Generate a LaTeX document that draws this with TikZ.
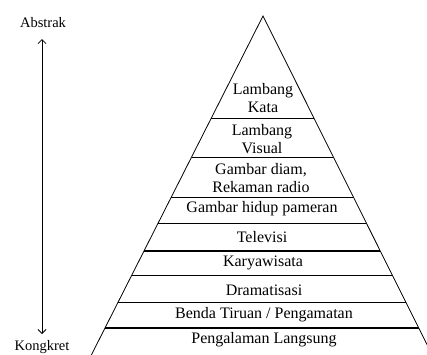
\documentclass[tikz,border=0pt]{standalone}
\usepackage{fontspec}
\setmainfont{Liberation Serif}
\usetikzlibrary{arrows.meta}
\begin{document}
\begin{tikzpicture}[x=1pt,y=-1pt,
  lbl/.style={font=\fontsize{16}{18}\selectfont, align=center, inner sep=0pt},
  side/.style={font=\fontsize{14.5}{16}\selectfont, inner sep=0pt},
  edge/.style={line width=0.8pt},
  rung/.style={line width=0.8pt},
  thick rung/.style={line width=1.3pt}]
\useasboundingbox (0,0) rectangle (427,354);
\begin{scope}
\clip (0,0) rectangle (427,354);
\coordinate (apex) at (263,16);
\coordinate (bl) at (89.3,359);
\coordinate (br) at (434.2,359);
\draw[edge] (bl) -- (apex) -- (br);
\foreach \y/\st in {118/rung,157/rung,197/rung,223/rung,251/thick rung,275/rung,302/rung,328/thick rung}{
  \draw[\st] ({263-0.506*(\y-16)},\y) -- ({263+0.499*(\y-16)},\y);
}
\end{scope}
\node[lbl] (t1) at (263,98) {Lambang\\Kata};
\node[lbl] (t2) at (262,139) {Lambang\\Visual};
\node[lbl] (t3) at (261,178) {Gambar diam,\\Rekaman radio};
\node[lbl] (t4) at (262,209) {Gambar hidup pameran};
\node[lbl] (t5) at (262,237) {Televisi};
\node[lbl] (t6) at (263,263) {Karyawisata};
\node[lbl] (t7) at (264,290) {Dramatisasi};
\node[lbl] (t8) at (264,315) {Benda Tiruan / Pengamatan};
\node[lbl] (t9) at (264,340) {Pengalaman Langsung};
\node[side] (abs) at (43,23) {Abstrak};
\node[side] (kon) at (42,347) {Kongkret};
\coordinate (atop) at (42,39);
\coordinate (abot) at (42,334);
\draw[line width=0.8pt,{Straight Barb[length=4pt,width=8pt]}-{Straight Barb[length=4pt,width=8pt]}] (atop) -- (abot);
\end{tikzpicture}
\end{document}
